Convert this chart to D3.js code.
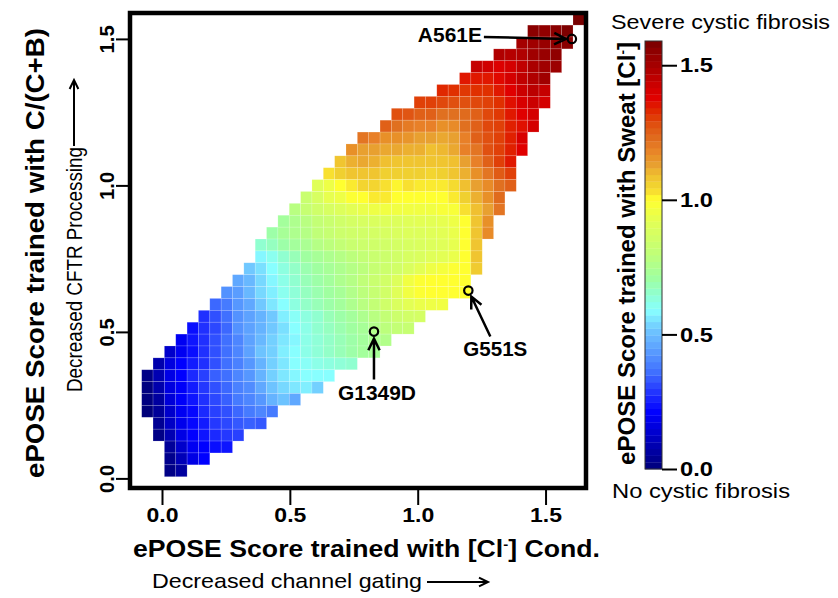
<!DOCTYPE html>
<html>
<head>
<meta charset="utf-8">
<script src="https://cdn.jsdelivr.net/npm/d3@7"></script>
<style>
  body { margin: 0; background: #fff; }
  text { font-family: "Liberation Sans", Arial, sans-serif; }
</style>
</head>
<body>
<div id="chart"></div>
<script>
// grid of cells: first column of each row (top row first) and its values
const gridX0 = -0.0794, gridDX = 0.04439, gridY0 = 0.0058, gridDY = 0.04056;
const rowStart = [38,34,33,31,29,28,26,24,22,21,19,18,17,16,15,14,13,12,11,10,10,9,8,7,6,5,4,3,2,1,0,0,0,0,1,1,2,2,2];
const rowValues = [
  [1.59],
  [1.56,1.55,1.56,1.58],
  [1.50,1.51,1.53,1.55,1.56],
  [1.48,1.47,1.48,1.51,1.53,1.55],
  [1.44,1.42,1.39,1.41,1.45,1.49,1.51,1.52],
  [1.35,1.35,1.35,1.37,1.41,1.45,1.48,1.51],
  [1.33,1.32,1.31,1.32,1.32,1.35,1.38,1.43,1.46,1.44],
  [1.30,1.30,1.29,1.28,1.28,1.29,1.30,1.32,1.36,1.40,1.43,1.41],
  [1.28,1.27,1.25,1.25,1.22,1.22,1.23,1.25,1.29,1.31,1.35,1.38,1.41],
  [1.25,1.22,1.20,1.19,1.19,1.16,1.17,1.22,1.25,1.29,1.30,1.34,1.36,1.41],
  [1.21,1.19,1.16,1.16,1.15,1.13,1.13,1.12,1.13,1.19,1.25,1.28,1.30,1.34,1.40],
  [1.16,1.13,1.13,1.12,1.12,1.11,1.11,1.09,1.10,1.12,1.19,1.21,1.28,1.30,1.34,1.38],
  [1.08,1.11,1.12,1.11,1.09,1.08,1.08,1.08,1.08,1.08,1.09,1.13,1.19,1.25,1.30,1.35],
  [1.03,1.06,1.08,1.08,1.08,1.06,1.06,1.06,1.06,1.05,1.06,1.08,1.11,1.16,1.21,1.26,1.30],
  [0.91,0.95,1.00,1.02,1.05,1.05,1.03,1.01,1.03,1.02,1.02,1.02,1.04,1.09,1.13,1.17,1.22,1.25],
  [0.83,0.88,0.93,0.95,0.99,1.00,1.02,1.02,1.00,1.00,1.00,1.00,1.00,1.02,1.06,1.11,1.16,1.23],
  [0.78,0.82,0.85,0.88,0.90,0.92,0.94,0.95,0.96,0.96,0.96,0.96,0.96,0.98,0.98,1.03,1.09,1.13,1.21],
  [0.72,0.75,0.78,0.81,0.83,0.85,0.87,0.88,0.89,0.90,0.90,0.91,0.92,0.92,0.93,0.95,1.00,1.08,1.16],
  [0.70,0.73,0.75,0.77,0.80,0.82,0.84,0.85,0.86,0.87,0.88,0.89,0.90,0.90,0.91,0.92,0.94,1.00,1.08,1.17],
  [0.65,0.67,0.70,0.72,0.74,0.77,0.79,0.81,0.83,0.84,0.85,0.86,0.87,0.88,0.89,0.90,0.91,0.93,1.00,1.08],
  [0.58,0.61,0.65,0.68,0.71,0.73,0.75,0.77,0.79,0.81,0.83,0.84,0.86,0.88,0.89,0.91,0.92,0.94,1.00,1.08],
  [0.52,0.55,0.59,0.63,0.66,0.69,0.71,0.73,0.75,0.77,0.79,0.82,0.84,0.86,0.89,0.92,0.95,0.97,0.99,1.00,1.07],
  [0.46,0.49,0.54,0.58,0.62,0.65,0.68,0.70,0.72,0.75,0.77,0.80,0.83,0.86,0.90,0.96,0.99,1.00,1.00,1.00,1.00],
  [0.42,0.44,0.49,0.54,0.57,0.61,0.64,0.67,0.69,0.71,0.73,0.76,0.79,0.82,0.86,0.91,0.96,0.99,1.00,1.00,1.00,1.00],
  [0.35,0.38,0.43,0.46,0.52,0.56,0.59,0.63,0.66,0.68,0.70,0.72,0.75,0.78,0.81,0.85,0.89,0.92,0.94,0.95,0.96],
  [0.28,0.32,0.36,0.42,0.45,0.48,0.52,0.57,0.60,0.63,0.65,0.68,0.70,0.72,0.75,0.78,0.81,0.84,0.86,0.87],
  [0.23,0.28,0.31,0.35,0.42,0.45,0.48,0.52,0.55,0.59,0.62,0.65,0.67,0.69,0.71,0.73,0.76,0.79,0.81,0.82],
  [0.19,0.24,0.28,0.32,0.36,0.40,0.45,0.49,0.53,0.56,0.58,0.62,0.64,0.66,0.68,0.70,0.72,0.74,0.76],
  [0.13,0.19,0.23,0.28,0.32,0.36,0.40,0.45,0.51,0.53,0.57,0.59,0.62,0.64,0.66,0.68,0.70,0.72,0.73],
  [0.08,0.16,0.21,0.25,0.28,0.32,0.36,0.39,0.43,0.48,0.53,0.56,0.59,0.60,0.62,0.63,0.64,0.65],
  [0.02,0.09,0.17,0.21,0.27,0.30,0.34,0.36,0.40,0.43,0.48,0.53,0.56,0.58,0.59,0.59,0.59],
  [0.01,0.08,0.16,0.20,0.25,0.29,0.32,0.35,0.39,0.41,0.46,0.51,0.54,0.56,0.57,0.53],
  [0.01,0.06,0.15,0.20,0.24,0.28,0.31,0.34,0.38,0.40,0.43,0.48,0.51,0.46],
  [0.00,0.05,0.13,0.19,0.22,0.27,0.30,0.32,0.35,0.38,0.40,0.38],
  [0.04,0.12,0.18,0.22,0.25,0.29,0.31,0.33,0.34,0.33],
  [0.02,0.09,0.17,0.21,0.24,0.27,0.29,0.30],
  [0.05,0.13,0.19,0.21,0.23,0.24],
  [0.03,0.10,0.17,0.21],
  [0.02,0.06]
];

const xTicks = [0, 0.5, 1.0, 1.5];
const yTicks = [0, 0.5, 1.0, 1.5];
const cbTicks = [0, 0.5, 1.0, 1.5];

// colour key, value -> colour
const colorStops = [0.00,0.10,0.21,0.28,0.36,0.46,0.52,0.59,0.65,0.71,0.80,0.91,1.00,1.03,1.06,1.09,1.13,1.16,1.19,1.22,1.25,1.28,1.30,1.32,1.35,1.38,1.42,1.45,1.51,1.55,1.59];
const colorHex = ["#00007a","#0000b8","#0000ff","#2030ff","#4070ff","#60a8ff","#70c8ff","#88ffff","#90ffd0","#a0ffa0","#c0ff78","#e0ff58","#ffff30","#f8e030","#f0d030","#f0c030","#e8a030","#e89028","#e88028","#e07020","#e06018","#e05010","#e04008","#e03000","#e01800","#e00000","#d00000","#c00000","#a00000","#900000","#780000"];

const mutNames = ["A561E", "G551S", "G1349D"];
const mutX = [1.603, 1.198, 0.829];
const mutY = [1.500, 0.641, 0.501];

const W = 838, H = 598;
const box = {left: 130, right: 586, top: 13, bottom: 488};

const svg = d3.select("#chart").append("svg")
  .attr("width", W).attr("height", H);

var x = d3.scaleLinear()
  .domain([(box.left - 162) / 255.7, (box.right - 162) / 255.7])
  .range([box.left, box.right]);
var y = d3.scaleLinear()
  .domain([(478.4 - box.bottom) / 293, (478.4 - box.top) / 293])
  .range([box.bottom, box.top]);

var color = d3.scaleLinear().domain(colorStops).range(colorHex).clamp(true);

// flatten rows into cells
var cells = [];
rowValues.forEach(function(vals, r) {
  vals.forEach(function(v, i) {
    var c = rowStart[r] + i;
    cells.push({
      x0: gridX0 + c * gridDX,
      y1: gridY0 + (rowValues.length - r) * gridDY,
      v: v
    });
  });
});

svg.append("clipPath").attr("id", "plotclip")
  .append("rect")
  .attr("x", box.left).attr("y", box.top)
  .attr("width", box.right - box.left).attr("height", box.bottom - box.top);

svg.append("g").attr("clip-path", "url(#plotclip)")
  .selectAll("rect")
  .data(cells)
  .enter().append("rect")
    .attr("x", d => x(d.x0))
    .attr("y", d => y(d.y1))
    .attr("width", d => x(d.x0 + gridDX) - x(d.x0))
    .attr("height", d => y(d.y1 - gridDY) - y(d.y1))
    .attr("fill", d => color(d.v))
    .attr("stroke", "#ffffff")
    .attr("stroke-opacity", 0.25)
    .attr("stroke-width", 0.6);

// plot frame
svg.append("rect")
  .attr("x", box.left).attr("y", box.top)
  .attr("width", box.right - box.left).attr("height", box.bottom - box.top)
  .attr("fill", "none").attr("stroke", "#000").attr("stroke-width", 4.5);

// axes, R style
var xAxis = svg.append("g")
  .attr("transform", "translate(0," + (box.bottom + 2) + ")")
  .call(d3.axisBottom(x).tickValues(xTicks).tickFormat(d3.format(".1f")).tickSize(15).tickPadding(2));
var yAxis = svg.append("g")
  .attr("transform", "translate(" + (box.left - 2) + ",0)")
  .call(d3.axisLeft(y).tickValues(yTicks).tickFormat(d3.format(".1f")).tickSize(12).tickPadding(3));

[xAxis, yAxis].forEach(function(a) {
  a.select(".domain").remove();
  a.selectAll(".tick line").attr("stroke", "#000").attr("stroke-width", 2);
  a.selectAll(".tick text")
    .attr("fill", "#000")
    .attr("textLength", 32).attr("lengthAdjust", "spacingAndGlyphs")
    .style("font-size", "21px").style("font-weight", "bold");
});
xAxis.selectAll(".tick text").attr("dy", "0.72em");
yAxis.selectAll(".tick text")
  .attr("text-anchor", "middle")
  .attr("textLength", 28)
  .attr("x", null).attr("dy", null)
  .attr("transform", "translate(-14,0) rotate(-90)");

// axis titles
svg.append("text")
  .attr("x", 133).attr("y", 557)
  .attr("textLength", 467).attr("lengthAdjust", "spacingAndGlyphs")
  .style("font-size", "23px").style("font-weight", "bold")
  .html('ePOSE Score trained with [Cl<tspan dy="-8" font-size="13">-</tspan><tspan dy="8">] Cond.</tspan>');

svg.append("text")
  .attr("x", 152).attr("y", 588)
  .attr("textLength", 270).attr("lengthAdjust", "spacingAndGlyphs")
  .style("font-size", "21px")
  .text("Decreased channel gating");

svg.append("text")
  .attr("transform", "translate(44,478) rotate(-90)")
  .attr("textLength", 450).attr("lengthAdjust", "spacingAndGlyphs")
  .style("font-size", "25px").style("font-weight", "bold")
  .text("ePOSE Score trained with C/(C+B)");

svg.append("text")
  .attr("transform", "translate(82,392) rotate(-90)")
  .attr("textLength", 245).attr("lengthAdjust", "spacingAndGlyphs")
  .style("font-size", "22px")
  .text("Decreased CFTR Processing");

// arrows beside the subtitles
function arrow(x1, y1, x2, y2, head) {
  var a = Math.atan2(y2 - y1, x2 - x1);
  var p = d3.path();
  p.moveTo(x1, y1); p.lineTo(x2, y2);
  p.moveTo(x2 - head * Math.cos(a - 0.45), y2 - head * Math.sin(a - 0.45));
  p.lineTo(x2, y2);
  p.lineTo(x2 - head * Math.cos(a + 0.45), y2 - head * Math.sin(a + 0.45));
  return p.toString();
}
svg.append("path").attr("d", arrow(427, 582, 488, 582, 10))
  .attr("fill", "none").attr("stroke", "#000").attr("stroke-width", 2);
svg.append("path").attr("d", arrow(74, 146, 74, 80, 10))
  .attr("fill", "none").attr("stroke", "#000").attr("stroke-width", 2);

// mutation markers
var mg = svg.append("g");
mutNames.forEach(function(name, i) {
  var px = x(mutX[i]), py = y(mutY[i]);
  mg.append("circle").attr("cx", px).attr("cy", py).attr("r", 4.2)
    .attr("fill", "none").attr("stroke", "#000").attr("stroke-width", 2.2);
});
// labels and pointing arrows (offsets in pixels from the marker)
var pA = [x(mutX[0]), y(mutY[0])], pB = [x(mutX[1]), y(mutY[1])], pC = [x(mutX[2]), y(mutY[2])];
mg.append("path").attr("d", arrow(pA[0] - 88, pA[1] - 2, pA[0] - 6, pA[1], 13))
  .attr("fill", "none").attr("stroke", "#000").attr("stroke-width", 2.5);
mg.append("text").attr("x", pA[0] - 90).attr("y", pA[1] + 3)
  .attr("text-anchor", "end").attr("textLength", 64).attr("lengthAdjust", "spacingAndGlyphs")
  .style("font-size", "20px").style("font-weight", "bold").text(mutNames[0]);

mg.append("path").attr("d", arrow(pB[0] + 22, pB[1] + 46, pB[0] + 3, pB[1] + 6, 13))
  .attr("fill", "none").attr("stroke", "#000").attr("stroke-width", 2.5);
mg.append("text").attr("x", pB[0] + 27).attr("y", pB[1] + 65)
  .attr("text-anchor", "middle").attr("textLength", 64).attr("lengthAdjust", "spacingAndGlyphs")
  .style("font-size", "20px").style("font-weight", "bold").text(mutNames[1]);

mg.append("path").attr("d", arrow(pC[0], pC[1] + 48, pC[0], pC[1] + 7, 13))
  .attr("fill", "none").attr("stroke", "#000").attr("stroke-width", 2.5);
mg.append("text").attr("x", pC[0] + 3).attr("y", pC[1] + 68)
  .attr("text-anchor", "middle").attr("textLength", 78).attr("lengthAdjust", "spacingAndGlyphs")
  .style("font-size", "20px").style("font-weight", "bold").text(mutNames[2]);

// colour bar
var cb = {left: 645, width: 17, top: 41, bottom: 469};
var cy = d3.scaleLinear().domain([0, 1.59]).range([cb.bottom, cb.top]);
var nBands = 64;
var bands = d3.range(nBands).map(i => i * 1.59 / nBands);
svg.append("g").selectAll("rect")
  .data(bands)
  .enter().append("rect")
    .attr("x", cb.left)
    .attr("y", d => cy(d + 1.59 / nBands))
    .attr("width", cb.width)
    .attr("height", d => cy(d) - cy(d + 1.59 / nBands) + 0.3)
    .attr("fill", d => color(d + 0.5 * 1.59 / nBands));
svg.append("rect")
  .attr("x", cb.left).attr("y", cb.top).attr("width", cb.width).attr("height", cb.bottom - cb.top)
  .attr("fill", "none").attr("stroke", "#333").attr("stroke-width", 1);

var cbAxis = svg.append("g")
  .attr("transform", "translate(" + (cb.left + cb.width) + ",0)")
  .call(d3.axisRight(cy).tickValues(cbTicks).tickFormat(d3.format(".1f")).tickSize(15).tickPadding(3));
cbAxis.select(".domain").remove();
cbAxis.selectAll(".tick line").attr("stroke", "#000").attr("stroke-width", 2);
cbAxis.selectAll(".tick text").attr("fill", "#000")
  .attr("textLength", 33).attr("lengthAdjust", "spacingAndGlyphs")
  .style("font-size", "21px").style("font-weight", "bold");

svg.append("text")
  .attr("transform", "translate(635,465) rotate(-90)")
  .attr("textLength", 423).attr("lengthAdjust", "spacingAndGlyphs")
  .style("font-size", "23px").style("font-weight", "bold")
  .html('ePOSE Score trained with Sweat [Cl<tspan dy="-8" font-size="13">-</tspan><tspan dy="8">]</tspan>');

svg.append("text").attr("x", 611).attr("y", 29)
  .attr("textLength", 219).attr("lengthAdjust", "spacingAndGlyphs")
  .style("font-size", "20px").text("Severe cystic fibrosis");
svg.append("text").attr("x", 612).attr("y", 498)
  .attr("textLength", 178).attr("lengthAdjust", "spacingAndGlyphs")
  .style("font-size", "20px").text("No cystic fibrosis");
</script>
</body>
</html>
